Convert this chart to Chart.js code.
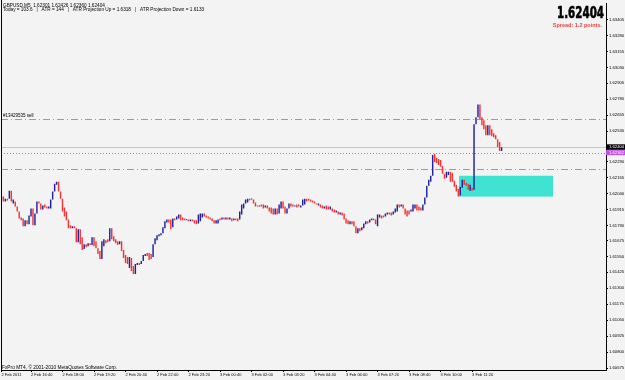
<!DOCTYPE html>
<html>
<head>
<meta charset="utf-8">
<script src="https://cdn.jsdelivr.net/npm/chart.js@4.4.1/dist/chart.umd.min.js"></script>
<style>
html,body{margin:0;padding:0;background:#f3f3f3;}
canvas{display:block;}
</style>
</head>
<body>
<canvas id="c" width="625" height="380"></canvas>
<script>
// ---- data (GBPUSD M5, bar index 0 = 2 Feb 2011 15:25) ----
const opens = [
1.61995,1.62018,1.61979,1.62002,1.62002,1.62064,1.61963,1.61979,1.61940,1.61901,
1.61855,1.61847,1.61785,1.61832,1.61801,1.61863,1.61925,1.61793,1.61886,1.61979,
1.61963,1.61917,1.61956,1.61940,1.61925,1.61925,1.61995,1.62057,1.62111,1.62134,
1.62057,1.62002,1.61932,1.61901,1.61839,1.61793,1.61770,1.61785,1.61770,1.61661,
1.61762,1.61700,1.61607,1.61645,1.61630,1.61653,1.61638,1.61700,1.61669,1.61614,
1.61591,1.61529,1.61630,1.61676,1.61684,1.61669,1.61770,1.61707,1.61684,1.61669,
1.61645,1.61669,1.61599,1.61560,1.61544,1.61459,1.61537,1.61475,1.61412,1.61482,
1.61498,1.61490,1.61513,1.61552,1.61576,1.61576,1.61568,1.61544,1.61645,1.61676,
1.61707,1.61715,1.61731,1.61770,1.61816,1.61839,1.61839,1.61777,1.61847,1.61839,
1.61847,1.61878,1.61855,1.61847,1.61832,1.61839,1.61824,1.61839,1.61832,1.61832,
1.61808,1.61824,1.61855,1.61886,1.61870,1.61863,1.61855,1.61847,1.61832,1.61808,
1.61808,1.61847,1.61839,1.61855,1.61839,1.61855,1.61839,1.61847,1.61832,1.61847,
1.61847,1.61839,1.61878,1.61925,1.61963,1.61971,1.62002,1.61995,1.61995,1.61971,
1.61948,1.61940,1.61956,1.61956,1.61932,1.61948,1.61932,1.61932,1.61925,1.61878,
1.61925,1.61886,1.61925,1.61979,1.61940,1.61886,1.61925,1.61963,1.61956,1.61940,
1.61956,1.61956,1.61932,1.61948,1.61956,1.62002,1.62002,1.61995,1.61987,1.61979,
1.61963,1.61948,1.61956,1.61948,1.61925,1.61948,1.61940,1.61917,1.61925,1.61917,
1.61894,1.61901,1.61878,1.61894,1.61886,1.61847,1.61832,1.61801,1.61824,1.61824,
1.61785,1.61731,1.61770,1.61754,1.61770,1.61801,1.61824,1.61816,1.61832,1.61847,
1.61839,1.61785,1.61855,1.61870,1.61870,1.61863,1.61878,1.61894,1.61894,1.61878,
1.61894,1.61901,1.61956,1.61940,1.61956,1.61925,1.61909,1.61909,1.61901,1.61901,
1.61925,1.61956,1.61940,1.61932,1.61909,1.61956,1.62010,1.62103,1.62134,1.62181,
1.62351,1.62320,1.62313,1.62305,1.62258,1.62196,1.62165,1.62188,1.62212,1.62204,
1.62142,1.62111,1.62080,1.62026,1.62088,1.62150,1.62126,1.62119,1.62064,1.62088,
1.62072,1.62584,1.62639,1.62739,1.62639,1.62615,1.62576,1.62499,1.62576,1.62545,
1.62514,1.62499,1.62468,1.62445,1.62375
];
const closes = [
1.62018,1.61979,1.62002,1.61987,1.62064,1.61979,1.61995,1.61940,1.61901,1.61847,
1.61832,1.61785,1.61832,1.61801,1.61870,1.61925,1.61793,1.61886,1.61979,1.61963,
1.61917,1.61948,1.61932,1.61925,1.61940,1.61995,1.62057,1.62119,1.62134,1.62057,
1.62002,1.61901,1.61863,1.61832,1.61770,1.61770,1.61785,1.61770,1.61661,1.61762,
1.61645,1.61599,1.61645,1.61622,1.61653,1.61638,1.61700,1.61630,1.61614,1.61568,
1.61529,1.61669,1.61684,1.61653,1.61661,1.61770,1.61684,1.61669,1.61653,1.61638,
1.61669,1.61591,1.61537,1.61498,1.61490,1.61544,1.61436,1.61412,1.61490,1.61498,
1.61482,1.61513,1.61560,1.61568,1.61552,1.61521,1.61529,1.61645,1.61692,1.61715,
1.61723,1.61731,1.61777,1.61824,1.61839,1.61816,1.61762,1.61847,1.61832,1.61863,
1.61878,1.61832,1.61832,1.61832,1.61839,1.61824,1.61839,1.61824,1.61808,1.61801,
1.61878,1.61886,1.61886,1.61863,1.61855,1.61847,1.61839,1.61824,1.61808,1.61832,
1.61839,1.61832,1.61855,1.61839,1.61855,1.61839,1.61855,1.61824,1.61847,1.61832,
1.61824,1.61901,1.61956,1.61963,1.61995,1.62002,1.61987,1.62002,1.61963,1.61940,
1.61940,1.61948,1.61940,1.61925,1.61948,1.61925,1.61901,1.61886,1.61878,1.61925,
1.61878,1.61956,1.61979,1.61925,1.61886,1.61925,1.61963,1.61940,1.61940,1.61948,
1.61932,1.61940,1.61948,1.61995,1.62002,1.61979,1.61987,1.61979,1.61971,1.61963,
1.61956,1.61963,1.61932,1.61925,1.61940,1.61917,1.61917,1.61940,1.61901,1.61894,
1.61909,1.61878,1.61894,1.61870,1.61839,1.61808,1.61801,1.61824,1.61801,1.61785,
1.61731,1.61770,1.61746,1.61777,1.61808,1.61824,1.61808,1.61839,1.61847,1.61832,
1.61801,1.61878,1.61878,1.61847,1.61855,1.61886,1.61894,1.61878,1.61870,1.61901,
1.61925,1.61956,1.61932,1.61956,1.61925,1.61878,1.61863,1.61878,1.61917,1.61956,
1.61956,1.61909,1.61909,1.61909,1.61956,1.62010,1.62103,1.62150,1.62181,1.62344,
1.62289,1.62282,1.62266,1.62251,1.62196,1.62157,1.62212,1.62212,1.62134,1.62134,
1.62095,1.62057,1.62018,1.62095,1.62150,1.62111,1.62103,1.62072,1.62111,1.62064,
1.62584,1.62639,1.62739,1.62623,1.62576,1.62545,1.62499,1.62576,1.62499,1.62491,
1.62483,1.62468,1.62406,1.62375,1.62404
];
const xTickIndex = [0,15,31,47,63,79,95,111,127,143,159,175,191,207,223,239];
const xTickLabels = ['2 Feb 2011','2 Feb 16:40','2 Feb 18:00','2 Feb 19:20','2 Feb 20:40','2 Feb 22:00','2 Feb 23:20','3 Feb 00:40','3 Feb 02:00','3 Feb 03:20','3 Feb 04:40','3 Feb 06:00','3 Feb 07:20','3 Feb 08:40','3 Feb 10:00','3 Feb 11:20'];
const yTickLabels = ['1.63405','1.63280','1.63155','1.63030','1.62905','1.62780','1.62655','1.62530','1.62410','1.62290','1.62165','1.62040','1.61915','1.61790','1.61675','1.61550','1.61425','1.61300','1.61175','1.61050','1.60925','1.60800','1.60675'];

const bidPrice = 1.62404;
const markPrice = 1.62362;
const orderPrice = 1.62622;
const levelPrice = 1.62235;
const zoneFrom = 232.4, zoneTo = 280.1;
const zoneHigh = 1.62181, zoneLow = 1.62018;
const headerLine1 = 'GBPUSD,M5  1.62301 1.62426 1.62360 1.62404';
const headerLine2 = 'Today = 103.6   |   ATR = 144   |   ATR Projection Up = 1.6318   |   ATR Projection Down = 1.6133';
const orderLabel = '#13429535 sell';
const copyright = 'FxPro MT4, \u00A9 2001-2010 MetaQuotes Software Corp.';
const spreadText = 'Spread: 1.2 points.';

const UP = '#22229e', DOWN = '#f43434';
const FONT = '"Liberation Sans", Arial, sans-serif';

const n = Math.min(opens.length, closes.length);
const bars = [], colors = [];
for (let i = 0; i < n; i++) {
  bars.push({x: i, y: [opens[i], closes[i]]});
  colors.push(closes[i] >= opens[i] ? UP : DOWN);
}

function hline(chart, price, color, dash, width) {
  const {ctx, chartArea: a, scales: {y}} = chart;
  const py = Math.round(y.getPixelForValue(price)) + 0.5;
  ctx.save();
  ctx.strokeStyle = color; ctx.lineWidth = width || 1;
  ctx.setLineDash(dash);
  ctx.beginPath(); ctx.moveTo(a.left, py); ctx.lineTo(a.right, py); ctx.stroke();
  ctx.restore();
}

const overlay = {
  id: 'overlay',
  beforeDraw(chart) {
    const ctx = chart.ctx;
    ctx.save(); ctx.fillStyle = '#f3f3f3'; ctx.fillRect(0, 0, chart.width, chart.height); ctx.restore();
  },
  beforeDatasetsDraw(chart) {
    const {ctx, scales: {x, y}} = chart;
    const x0 = x.getPixelForValue(zoneFrom), x1 = x.getPixelForValue(zoneTo);
    const y0 = y.getPixelForValue(zoneHigh), y1 = y.getPixelForValue(zoneLow);
    ctx.save(); ctx.fillStyle = '#40e2d2'; ctx.fillRect(x0, y0, x1 - x0, y1 - y0); ctx.restore();
    hline(chart, orderPrice, '#ff7a45', [7, 3, 1, 3]);
    hline(chart, levelPrice, '#ff7a45', [7, 3, 1, 3]);
    hline(chart, bidPrice, '#c4c4c4', []);
    hline(chart, markPrice, '#c85cf0', [1, 2]);
  },
  afterDraw(chart) {
    const {ctx, chartArea: a, scales: {y}} = chart;
    ctx.save();
    // left frame
    ctx.strokeStyle = '#000'; ctx.lineWidth = 1;
    ctx.beginPath(); ctx.moveTo(1.5, 0); ctx.lineTo(1.5, a.bottom); ctx.stroke();
    // header
    ctx.fillStyle = '#000'; ctx.textAlign = 'left'; ctx.textBaseline = 'alphabetic';
    ctx.font = '4.7px ' + FONT;
    ctx.fillText(headerLine1, 3, 6.5);
    ctx.fillText(headerLine2, 3, 10.5);
    // order label
    ctx.font = '4.5px ' + FONT;
    ctx.fillText(orderLabel, 3, y.getPixelForValue(orderPrice) - 2);
    // copyright
    ctx.font = '4.8px ' + FONT;
    ctx.fillText(copyright, 2, 368.5);
    // big price
    ctx.font = 'bold 16px "Liberation Sans Narrow", "DejaVu Sans Condensed", ' + FONT;
    const txt = bidPrice.toFixed(5);
    const w = ctx.measureText(txt).width;
    ctx.save();
    ctx.translate(604, 17.5);
    ctx.scale(47 / w, 1);
    ctx.textAlign = 'right';
    ctx.fillStyle = '#000';
    ctx.fillText(txt, 0, 0);
    ctx.lineWidth = 0.6; ctx.strokeStyle = '#000'; ctx.strokeText(txt, 0, 0);
    ctx.restore();
    // spread
    ctx.font = 'bold 5.5px ' + FONT;
    ctx.fillStyle = '#f04040'; ctx.textAlign = 'right';
    ctx.fillText(spreadText, 602, 27);
    // price boxes on axis
    const by = y.getPixelForValue(bidPrice);
    const my = y.getPixelForValue(markPrice);
    ctx.fillStyle = '#c050e8';
    ctx.fillRect(a.right, my - 2.5, 19, 5);
    ctx.fillStyle = '#000';
    ctx.fillRect(a.right, by - 3, 19, 5.5);
    ctx.font = '4.2px ' + FONT; ctx.textAlign = 'left'; ctx.textBaseline = 'middle';
    ctx.fillStyle = '#fff';
    ctx.fillText(markPrice.toFixed(5), a.right + 3, my + 0.3);
    ctx.fillText(bidPrice.toFixed(5), a.right + 3, by - 0.2);
    ctx.restore();
  }
};

new Chart(document.getElementById('c'), {
  type: 'bar',
  data: {
    datasets: [{
      data: bars,
      backgroundColor: colors,
      borderWidth: 0,
      barThickness: 1.45,
      inflateAmount: 0,
      minBarLength: 1
    }]
  },
  options: {
    responsive: false,
    devicePixelRatio: 1,
    animation: false,
    layout: {padding: {left: 1, top: 0, right: 0, bottom: 0}},
    plugins: {legend: {display: false}, tooltip: {enabled: false}},
    scales: {
      x: {
        type: 'linear', min: -0.24, max: 307.02, offset: false,
        afterBuildTicks: s => { s.ticks = xTickIndex.map(v => ({value: v})); },
        afterFit: s => { s.height = 10; },
        ticks: {
          autoSkip: false, maxRotation: 0, minRotation: 0, align: 'start', padding: 0,
          font: {size: 4, family: FONT}, color: '#000',
          callback: (v, i) => xTickLabels[i]
        },
        grid: {drawOnChartArea: false, offset: false, tickLength: 2, color: '#000', lineWidth: 1},
        border: {display: true, color: '#000', width: 1}
      },
      y: {
        position: 'right', min: 1.60660, max: 1.63530,
        afterBuildTicks: s => { s.ticks = yTickLabels.map(t => ({value: parseFloat(t)})); },
        afterFit: s => { s.width = 19; },
        ticks: {
          autoSkip: false, padding: 1,
          font: {size: 4.2, family: FONT}, color: '#000',
          callback: (v, i) => yTickLabels[i]
        },
        grid: {drawOnChartArea: false, tickLength: 2, color: '#000', lineWidth: 1},
        border: {display: true, color: '#000', width: 1}
      }
    }
  },
  plugins: [overlay]
});
</script>
</body>
</html>
